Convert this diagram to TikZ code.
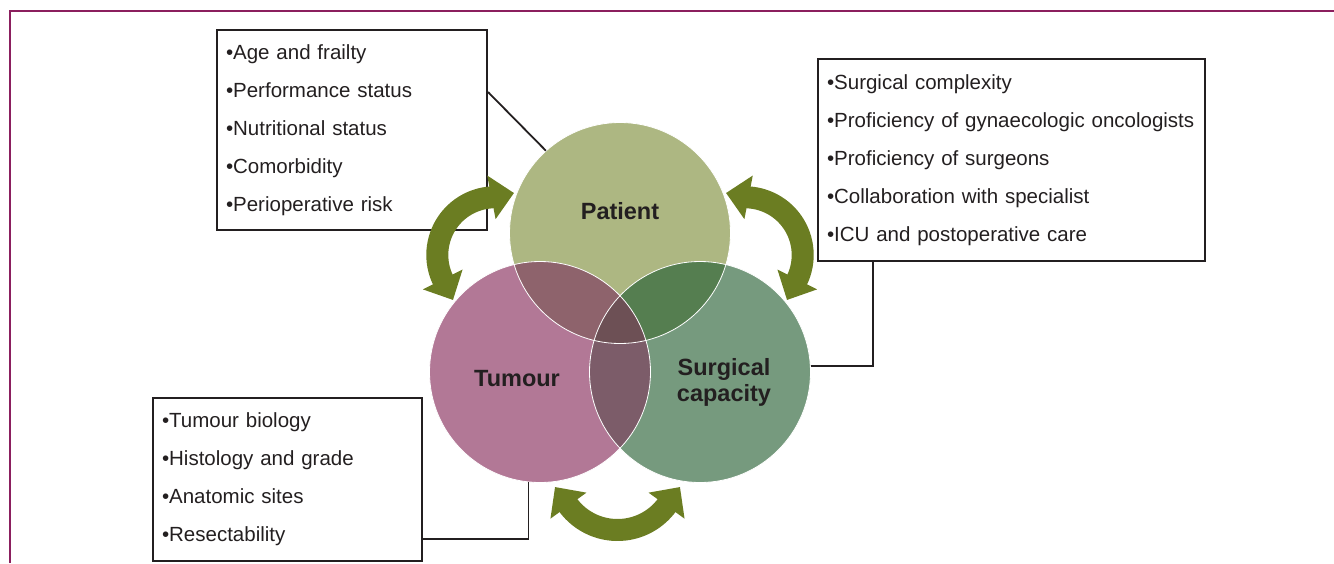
\documentclass[tikz,border=0pt]{standalone}
\usepackage{fontspec}
\setmainfont{Liberation Sans}
\usetikzlibrary{arrows.meta,calc}
\definecolor{framecol}{HTML}{8B1F5E}
\definecolor{inkcol}{HTML}{231F20}
\definecolor{patcol}{HTML}{ADB782}
\definecolor{tumcol}{HTML}{B27896}
\definecolor{surcol}{HTML}{769A7E}
\definecolor{ptcol}{HTML}{8E636C}
\definecolor{pscol}{HTML}{557E50}
\definecolor{tscol}{HTML}{7C5C69}
\definecolor{allcol}{HTML}{6D5055}
\definecolor{arrowcol}{HTML}{6B7D22}
\begin{document}
\begin{tikzpicture}[x=1pt, y=-1pt,
  infobox/.style={draw=inkcol, line width=2pt, anchor=north west, inner xsep=9pt, inner ysep=0pt,
    align=left, text=inkcol, font=\fontsize{20.5}{38}\selectfont},
  venn/.style={circle, minimum size=221pt, inner sep=0pt},
  venntext/.style={text=inkcol, align=center, font=\fontsize{23.5}{26}\selectfont\bfseries},
  link/.style={draw=inkcol, line width=1.8pt},
  bigarrow/.style={draw=arrowcol, line width=22pt,
    {Triangle[width=43pt,length=23pt]}-{Triangle[width=43pt,length=23pt]}}]
\def\rad{110.5}

\useasboundingbox (0,0) rectangle (1334,563);
\draw [framecol, line width=2.5pt] (10,563) -- (10,11) -- (1334,11);

\node [venn, fill=patcol] (patient) at (620,233) {};
\node [venn, fill=tumcol] (tumour) at (540,372) {};
\node [venn, fill=surcol] (surgical) at (700,372) {};

\begin{scope}
\clip (patient.center) circle [radius=\rad];
\fill [ptcol] (tumour.center) circle [radius=\rad];
\fill [pscol] (surgical.center) circle [radius=\rad];
\end{scope}
\begin{scope}
\clip (tumour.center) circle [radius=\rad];
\fill [tscol] (surgical.center) circle [radius=\rad];
\clip (patient.center) circle [radius=\rad];
\fill [allcol] (surgical.center) circle [radius=\rad];
\end{scope}
\foreach \c in {patient,tumour,surgical}
  \draw [white, line width=0.8pt] (\c.center) circle [radius=\rad];

\node [venntext] (ptext) at (620,211) {Patient};
\node [venntext] (ttext) at (517,379) {Tumour};
\node [venntext] (stext) at (724,382) {Surgical\\capacity};

\node [infobox, text width=252pt, minimum height=200pt] (pbox) at (216,29)
  {\textbullet Age and frailty\\\textbullet Performance status\\\textbullet Nutritional status\\\textbullet Comorbidity\\\textbullet Perioperative risk};
\node [infobox, text width=369pt, minimum height=202pt] (sbox) at (817,58)
  {\textbullet Surgical complexity\\\textbullet Proficiency of gynaecologic oncologists\\\textbullet Proficiency of surgeons\\\textbullet Collaboration with specialist\\\textbullet ICU and postoperative care};
\node [infobox, text width=251pt, minimum height=163pt] (tbox) at (152,397)
  {\textbullet Tumour biology\\\textbullet Histology and grade\\\textbullet Anatomic sites\\\textbullet Resectability};

\draw [link] ($(pbox.north east)+(0,63)$) -- (patient.132);
\draw [link] (surgical.3) -| ($(sbox.south west)+(56,0)$);
\draw [link] (tumour.264) |- ($(tbox.south east)+(0,-23)$);

\draw [bigarrow] (453,300) -- (443,280) arc [start angle=154.3, end angle=266, radius=57.7] -- (514,193);
\draw [bigarrow] (787,300) -- (797,280) arc [start angle=25.7, end angle=-86, radius=57.7] -- (726,193);
\draw [bigarrow] (555,487) -- (568,505) arc [start angle=143.6, end angle=36.4, radius=61.5] -- (680,487);

\end{tikzpicture}
\end{document}
